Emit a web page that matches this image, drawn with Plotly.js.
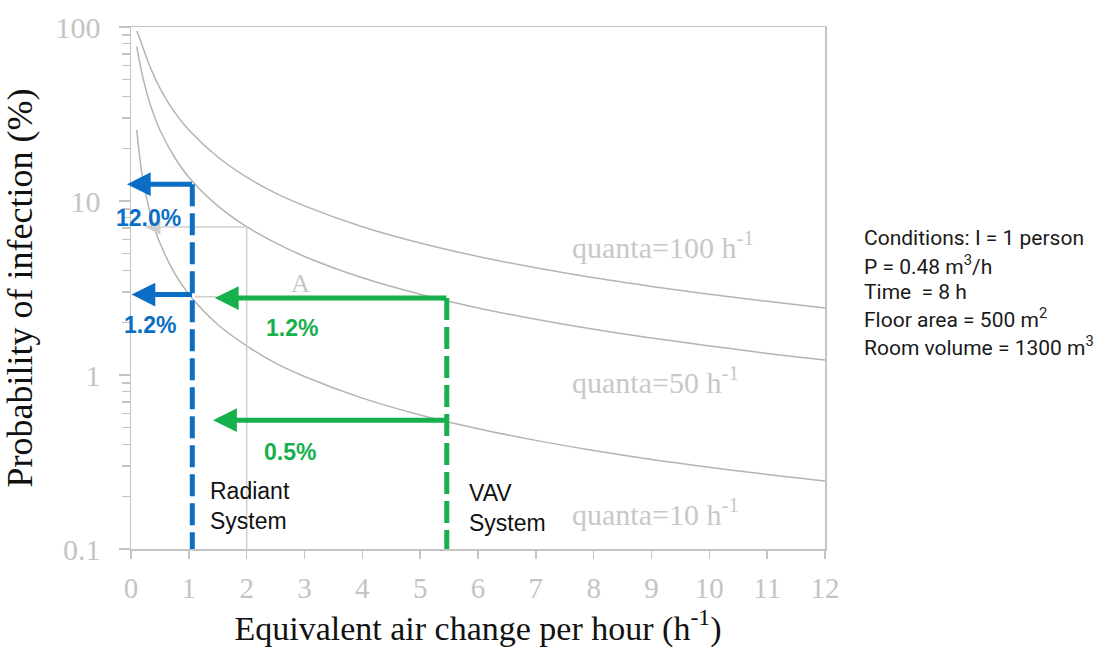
<!DOCTYPE html>
<html>
<head>
<meta charset="utf-8">
<script src="https://cdn.plot.ly/plotly-3.0.1.min.js"></script>
<style>html,body{margin:0;padding:0;background:#fff;}#chart{width:1109px;height:656px;}</style>
</head>
<body>
<div id="chart"></div>
<script>
// ---- Data ----
const airChange = [0.1, 0.15, 0.2, 0.3, 0.4, 0.5, 0.75, 1, 1.5, 2, 2.5, 3, 4, 5, 6, 7, 8, 9, 10, 11, 12];
const quanta100 = [94.8, 86.0, 77.2, 62.6, 52.2, 44.6, 32.5, 25.6, 17.9, 13.7, 11.1, 9.38, 7.12, 5.74, 4.80, 4.13, 3.62, 3.23, 2.91, 2.65, 2.43];
const quanta50  = [77.2, 62.6, 52.2, 38.9, 30.9, 25.6, 17.9, 13.7, 9.38, 7.12, 5.74, 4.80, 3.62, 2.91, 2.43, 2.09, 1.83, 1.63, 1.47, 1.33, 1.22];
const quanta10  = [25.6, 17.9, 13.7, 9.38, 7.12, 5.74, 3.86, 2.91, 1.95, 1.47, 1.17, 0.980, 0.736, 0.589, 0.491, 0.421, 0.368, 0.327, 0.295, 0.268, 0.246];
const curveNames = ["quanta=100 h<sup>-1</sup>", "quanta=50 h<sup>-1</sup>", "quanta=10 h<sup>-1</sup>"];

const radiantACH = 1.06;           // radiant system air change
const radiantLevels = [12.5, 2.9]; // probabilities read at radiant ACH
const radiantLabels = ["12.0%", "1.2%"];
const vavACH = 5.46;               // VAV system air change
const vavLevels = [2.77, 0.55];
const vavLabels = ["1.2%", "0.5%"];
const vavArrowEnd = [1.45, 1.42];
const radiantArrowEnd = [-0.07, 0.01];

const greyGuideX = [0.25, 2, 2];
const greyGuideY = [7.1, 7.1, 0.1];
const greyGuide2X = [1.1, 2];
const greyGuide2Y = [2.82, 2.82];

const xTicks = [0,1,2,3,4,5,6,7,8,9,10,11,12];
const yTicks = [0.1, 1, 10, 100];
const yTickText = ["0.1", "1", "10", "100"];
const yMinor = [0.2,0.3,0.4,0.5,0.6,0.7,0.8,0.9,2,3,4,5,6,7,8,9,20,30,40,50,60,70,80,90];

const conditions = [
  "Conditions: I = 1 person",
  "P = 0.48 m<sup>3</sup>/h",
  "Time  = 8 h",
  "Floor area = 500 m<sup>2</sup>",
  "Room volume = 1300 m<sup>3</sup>"
];

// ---- Styles ----
const BLUE = "#0a6fc4";
const GREEN = "#16b04c";
const CURVE = "#b4b4b4";
const AXIS = "#c4c4c4";
const TICKTXT = "#c4c4c4";
const SERIF = "Liberation Serif, Times New Roman, serif";
const SANS = "Liberation Sans, Arial, sans-serif";

const traces = [];
[quanta100, quanta50, quanta10].forEach((ys, i) => {
  traces.push({x: airChange, y: ys, type: "scatter", mode: "lines", name: curveNames[i],
    line: {color: CURVE, width: 1.5, shape: "spline", smoothing: 1}, hoverinfo: "x+y"});
});
traces.push({x: greyGuideX, y: greyGuideY, mode: "lines", line: {color: "#cfcfcf", width: 1.5}, hoverinfo: "skip"});
traces.push({x: greyGuide2X, y: greyGuide2Y, mode: "lines", line: {color: "#cfcfcf", width: 1.5}, hoverinfo: "skip"});
traces.push({x: [radiantACH, radiantACH], y: [radiantLevels[0], 0.1], mode: "lines",
  line: {color: BLUE, width: 5, dash: "22px,7px"}, hoverinfo: "skip"});
traces.push({x: [vavACH, vavACH], y: [vavLevels[0], 0.1], mode: "lines",
  line: {color: GREEN, width: 5, dash: "22px,7px"}, hoverinfo: "skip"});

const annotations = [];
function arrow(x0, x1, y, color, w, head, size) {
  annotations.push({x: x1, y: Math.log10(y), ax: x0, ay: Math.log10(y), xref: "x", yref: "y", axref: "x", ayref: "y",
    text: "", showarrow: true, arrowhead: head, arrowsize: size, arrowwidth: w, arrowcolor: color, standoff: 0, startstandoff: 0});
}
radiantLevels.forEach((v, i) => arrow(radiantACH + 0.02, radiantArrowEnd[i], v, BLUE, 5, 2, 0.95));
vavLevels.forEach((v, i) => arrow(vavACH + 0.02, vavArrowEnd[i], v, GREEN, 5, 2, 0.95));
arrow(greyGuideX[0] + 0.2, greyGuideX[0], greyGuideY[0], "#cfcfcf", 1.5, 2, 2);

function txt(text, px, py, opts) {
  annotations.push(Object.assign({text: text, x: (px - 131) / 694, y: (549 - py) / 522, xref: "paper", yref: "paper",
    showarrow: false, xanchor: "center", yanchor: "middle"}, opts));
}
txt("<b>" + radiantLabels[0] + "</b>", 148, 218, {font: {family: SANS, size: 23, color: BLUE}});
txt("<b>" + radiantLabels[1] + "</b>", 150, 325, {font: {family: SANS, size: 23, color: BLUE}});
txt("<b>" + vavLabels[0] + "</b>", 292, 328, {font: {family: SANS, size: 23, color: GREEN}});
txt("<b>" + vavLabels[1] + "</b>", 290, 452, {font: {family: SANS, size: 23, color: GREEN}});
txt("Radiant<br>System", 208, 506, {xanchor: "left", align: "left", font: {family: SANS, size: 23, color: "#111"}});
txt("VAV<br>System", 467, 508, {xanchor: "left", align: "left", font: {family: SANS, size: 23, color: "#111"}});
txt(curveNames[0], 663, 245, {font: {family: SERIF, size: 30, color: "#c8c8c8"}});
txt(curveNames[1], 655, 380, {font: {family: SERIF, size: 30, color: "#c8c8c8"}});
txt(curveNames[2], 655, 512, {font: {family: SERIF, size: 30, color: "#c8c8c8"}});
txt("A", 300, 283, {font: {family: SERIF, size: 26, color: "#c8c8c8"}});
const condY = [238, 265, 292, 318, 346];
conditions.forEach((c, i) => txt(c, 862, condY[i], {xanchor: "left", align: "left", font: {family: "Roboto, sans-serif", size: 21, color: "#1a1a1a"}}));

const layout = {
  width: 1109, height: 656,
  margin: {l: 131, r: 284, t: 27, b: 107},
  paper_bgcolor: "#fff", plot_bgcolor: "#fff",
  showlegend: false,
  xaxis: {
    range: [0, 12], tickvals: xTicks, ticks: "outside", ticklen: 8, tickwidth: 1.5, tickcolor: AXIS,
    showline: true, linecolor: AXIS, linewidth: 1.5, mirror: true, showgrid: false, zeroline: false,
    tickfont: {family: SERIF, size: 29, color: TICKTXT}, ticklabelstandoff: 5,
    title: {text: "Equivalent air change per hour (h<sup>-1</sup>)", font: {family: SERIF, size: 34, color: "#111"}, standoff: 10}
  },
  yaxis: {
    type: "log", range: [-1, 2], tickvals: yTicks, ticktext: yTickText, ticks: "outside", ticklen: 11, tickwidth: 1.5, tickcolor: AXIS,
    minor: {tickvals: yMinor, ticks: "outside", ticklen: 8, tickcolor: AXIS, tickwidth: 1.2, showgrid: false},
    showline: true, linecolor: AXIS, linewidth: 1.5, mirror: true, showgrid: false, zeroline: false,
    tickfont: {family: SERIF, size: 30, color: TICKTXT}, ticklabelstandoff: 12,
    title: {text: "Probability of infection (%)", font: {family: SERIF, size: 36, color: "#111"}, standoff: 12}
  },
  annotations: annotations
};

Plotly.newPlot("chart", traces, layout, {staticPlot: true, displayModeBar: false});
</script>
</body>
</html>
